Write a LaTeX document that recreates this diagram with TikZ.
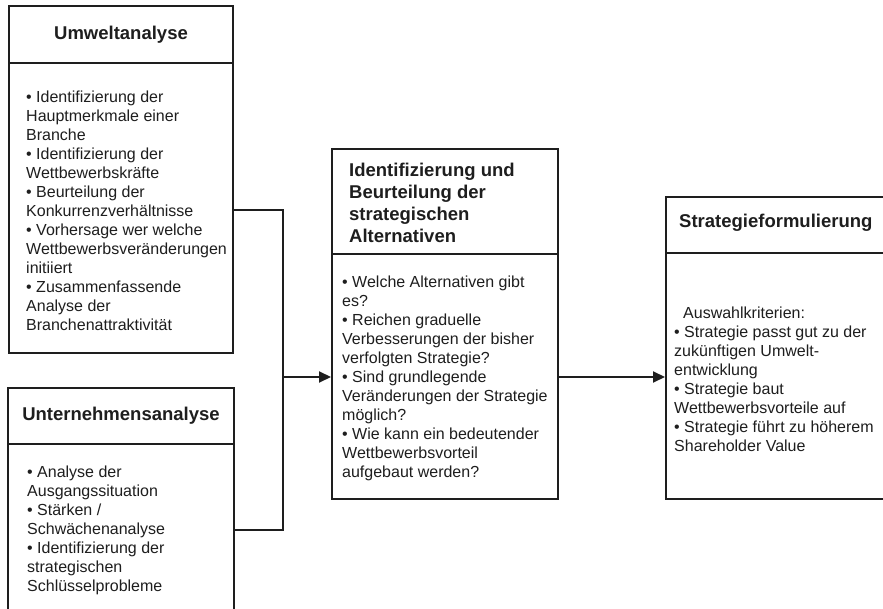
\documentclass[tikz,border=0pt]{standalone}
\usepackage{fontspec}
\setmainfont{Liberation Sans}
\usetikzlibrary{arrows.meta}
\definecolor{ink}{RGB}{30,30,30}
\begin{document}
\begin{tikzpicture}[x=1pt,y=-1pt,
  frame/.style={draw=ink, line width=2pt, rectangle, inner sep=0pt, anchor=north west},
  head/.style={font=\fontsize{18.5}{22}\selectfont\bfseries, text=ink, inner sep=0pt, align=left},
  body/.style={font=\fontsize{16}{19}\selectfont, text=ink, inner sep=0pt, align=left, anchor=west},
  conn/.style={draw=ink, line width=2pt},
  arr/.style={conn, -{Triangle[length=12pt,width=11pt]}}]
\useasboundingbox (0,0) rectangle (883,609);
\clip (0,0) rectangle (883,609);
\fill[white] (0,0) rectangle (883,609);
% boxes
\node[frame, minimum width=224pt, minimum height=57pt] (umwH) at (8,5) {};
\node[frame, minimum width=224pt, minimum height=290pt] (umwB) at (8,62) {};
\node[frame, minimum width=226pt, minimum height=56pt] (untH) at (7,387) {};
\node[frame, minimum width=226pt, minimum height=180pt] (untB) at (7,443) {};
\node[frame, minimum width=226pt, minimum height=105pt] (altH) at (331,148) {};
\node[frame, minimum width=226pt, minimum height=245pt] (altB) at (331,253) {};
\node[frame, minimum width=230pt, minimum height=56pt] (strH) at (665,196) {};
\node[frame, minimum width=230pt, minimum height=246pt] (strB) at (665,252) {};
% texts
\node[head] (umwT) at (umwH.center) {Umweltanalyse};
\node[body] (umwX) at (26,211) {• Identifizierung der\\Hauptmerkmale einer\\Branche\\• Identifizierung der\\Wettbewerbskräfte\\• Beurteilung der\\Konkurrenzverhältnisse\\• Vorhersage wer welche\\Wettbewerbsveränderungen\\initiiert\\• Zusammenfassende\\Analyse der\\Branchenattraktivität};
\node[head] (untT) at (untH.center) {Unternehmensanalyse};
\node[body] (untX) at (27,530.5) {• Analyse der\\Ausgangssituation\\• Stärken /\\Schwächenanalyse\\• Identifizierung der\\strategischen\\Schlüsselprobleme};
\node[head, anchor=west] (altT) at (349,203) {Identifizierung und\\Beurteilung der\\strategischen\\Alternativen};
\node[body] (altX) at (342,378.5) {• Welche Alternativen gibt\\es?\\• Reichen graduelle\\Verbesserungen der bisher\\verfolgten Strategie?\\• Sind grundlegende\\Veränderungen der Strategie\\möglich?\\• Wie kann ein bedeutender\\Wettbewerbsvorteil\\aufgebaut werden?};
\node[head, anchor=west] (strT) at (679,223) {Strategieformulierung};
\node[body] (strX) at (674,379) {\hspace*{9pt}Auswahlkriterien:\\• Strategie passt gut zu der\\zukünftigen Umwelt-\\entwicklung\\• Strategie baut\\Wettbewerbsvorteile auf\\• Strategie führt zu höherem\\Shareholder Value};
% connectors
\coordinate (jt) at (283,210);
\coordinate (jb) at (283,530);
\coordinate (jm) at (283,377);
\draw[conn] (umwB.east |- jt) -- (jt) -- (jb) -- (untB.east |- jb);
\draw[arr] (jm) -- (altB.west |- jm);
\draw[arr] (altB.east |- jm) -- (strB.west |- jm);
\end{tikzpicture}
\end{document}
